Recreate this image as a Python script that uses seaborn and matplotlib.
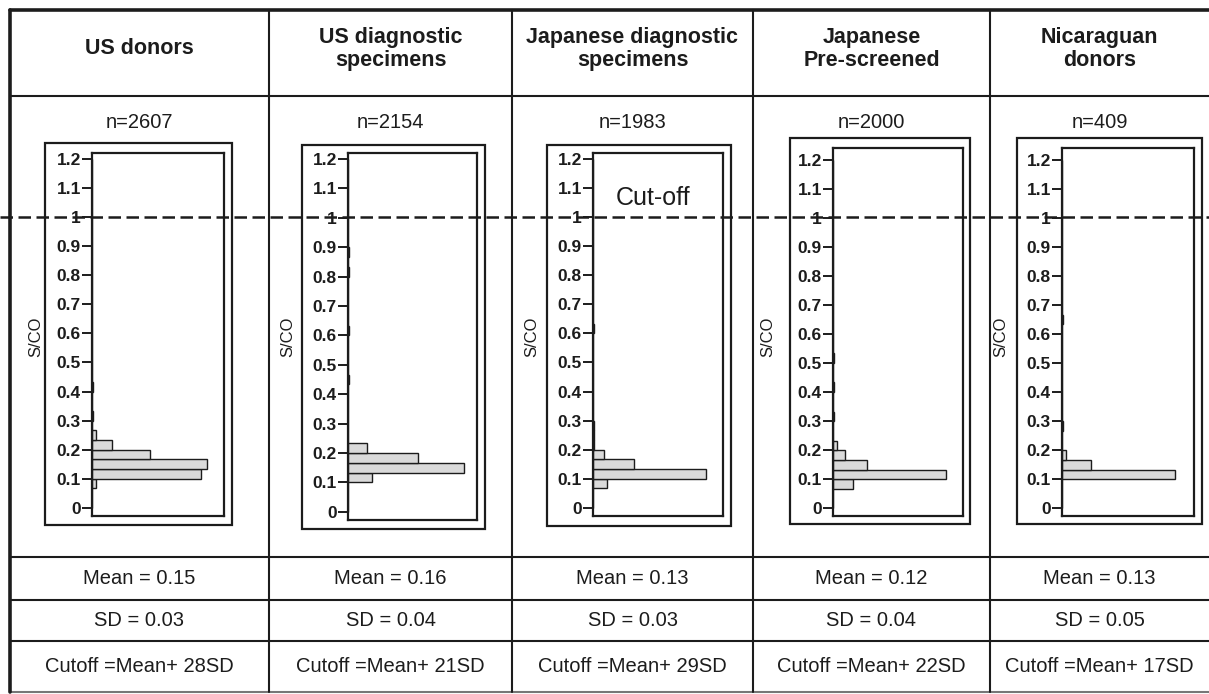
import numpy as np
import pandas as pd
import matplotlib
matplotlib.use("Agg")
import matplotlib.pyplot as plt
import matplotlib.transforms as mtransforms
from matplotlib.lines import Line2D
from matplotlib.patches import Rectangle
import seaborn as sns

sns.set_theme(style="white")
plt.rcParams["font.family"] = ["Liberation Sans", "DejaVu Sans"]

# ---------------------------------------------------------------- data
groups = ["US donors", "US diagnostic\nspecimens", "Japanese diagnostic\nspecimens",
          "Japanese\nPre-screened", "Nicaraguan\ndonors"]
n_values = [2607, 2154, 1983, 2000, 409]
means = [0.15, 0.16, 0.13, 0.12, 0.13]
sds = [0.03, 0.04, 0.03, 0.04, 0.05]
cutoff_multiples = [28, 21, 29, 22, 17]
cutoff = 1.0

bin_width = 1 / 30
# lower edge of each occupied S/CO bin and the number of specimens in it
us_donor_bins = [0.067, 0.100, 0.133, 0.167, 0.200, 0.233, 0.300, 0.400]
us_donor_counts = [35, 911, 961, 485, 167, 33, 8, 7]
us_diag_bins = [0.100, 0.133, 0.167, 0.200, 0.433, 0.600, 0.800, 0.867]
us_diag_counts = [223, 1079, 651, 177, 8, 6, 5, 5]
jp_diag_bins = [0.067, 0.100, 0.133, 0.167, 0.200, 0.233, 0.267, 0.600]
jp_diag_counts = [153, 1232, 447, 120, 7, 7, 6, 11]
jp_pre_bins = [0.067, 0.100, 0.133, 0.167, 0.200, 0.300, 0.400, 0.500, 0.567, 0.700, 1.000]
jp_pre_counts = [215, 1215, 366, 129, 43, 6, 6, 6, 5, 5, 4]
nic_bins = [0.100, 0.133, 0.167, 0.267, 0.633]
nic_counts = [311, 80, 11, 4, 3]

y_ticks = [0, 0.1, 0.2, 0.3, 0.4, 0.5, 0.6, 0.7, 0.8, 0.9, 1.0, 1.1, 1.2]
y_tick_labels = ["0", "0.1", "0.2", "0.3", "0.4", "0.5", "0.6", "0.7", "0.8",
                 "0.9", "1", "1.1", "1.2"]

panels = [
    (us_donor_bins, us_donor_counts),
    (us_diag_bins, us_diag_counts),
    (jp_diag_bins, jp_diag_counts),
    (jp_pre_bins, jp_pre_counts),
    (nic_bins, nic_counts),
]

# ---------------------------------------------------------------- layout (pixels)
W, H = 1209, 694
col_edges = [10, 269, 512, 753, 990, 1209]
row_lines = [96, 557, 600, 641]
# plot area: left, top, right, bottom ; surrounding frame ; ylim ; count range
axes_px = [(92, 153, 224, 516), (348, 153, 477, 520), (593, 153, 723, 516),
           (833, 148, 963, 516), (1062, 148, 1194, 516)]
frame_px = [(45, 143, 232, 525), (302, 145, 485, 529), (547, 145, 731, 526),
            (790, 138, 970, 524), (1017, 138, 1202, 524)]
ylims = [(-0.028, 1.22), (-0.028, 1.22), (-0.028, 1.22), (-0.026, 1.24), (-0.026, 1.24)]
xmax = [1103, 1200, 1417, 1398, 363]
ylabel_x = [36, 288, 532, 768, 1001]


def fx(x):
    return x / W


def fy(y):
    return 1 - y / H


fig = plt.figure(figsize=(W / 100, H / 100), dpi=100)
fig.patch.set_facecolor("white")

line_col = "#1c1c1c"

axes = []
for i, (bins_lo, counts) in enumerate(panels):
    l, t, r, b = axes_px[i]
    ax = fig.add_axes([fx(l), fy(b), (r - l) / W, (b - t) / H])
    df = pd.DataFrame({"sco": np.array(bins_lo) + bin_width / 2, "count": counts})
    sns.histplot(data=df, y="sco", weights="count", binwidth=bin_width,
                 binrange=(0, 1.2), ax=ax, color="#dadada", edgecolor=line_col,
                 linewidth=1.0, alpha=1.0)
    ax.set_xlim(0, xmax[i])
    ax.set_ylim(*ylims[i])
    ax.set_xticks([])
    ax.set_yticks(y_ticks)
    ax.set_yticklabels(y_tick_labels)
    ax.tick_params(axis="y", left=True, direction="out", length=7, width=1.4,
                   pad=1, labelsize=12.5, colors=line_col)
    for lab in ax.get_yticklabels():
        lab.set_fontweight("bold")
    for sp in ax.spines.values():
        sp.set_visible(True)
        sp.set_color(line_col)
        sp.set_linewidth(1.6)
    ax.set_xlabel("")
    ax.set_ylabel("")
    axes.append(ax)

    fl, ft, fr, fb = frame_px[i]
    fig.add_artist(Rectangle((fx(fl), fy(fb)), (fr - fl) / W, (fb - ft) / H,
                             transform=fig.transFigure, fill=False,
                             edgecolor=line_col, linewidth=1.6))
    fig.text(fx(ylabel_x[i]), fy(337), "S/CO", rotation=90, ha="center",
             va="center", fontsize=12, color=line_col)

# table grid
for y in row_lines:
    fig.add_artist(Line2D([fx(col_edges[0]), 1], [fy(y), fy(y)],
                          transform=fig.transFigure, color=line_col, linewidth=1.5))
fig.add_artist(Line2D([fx(col_edges[0]), 1], [fy(10), fy(10)],
                      transform=fig.transFigure, color=line_col, linewidth=2.6))
fig.add_artist(Line2D([fx(col_edges[0]), 1], [fy(692), fy(692)],
                      transform=fig.transFigure, color="#777777", linewidth=1.5))
for j, x in enumerate(col_edges[:-1]):
    fig.add_artist(Line2D([fx(x), fx(x)], [fy(10), fy(692)],
                          transform=fig.transFigure, color=line_col,
                          linewidth=2.6 if j == 0 else 1.5))

# cut-off line across every panel
blend = mtransforms.blended_transform_factory(fig.transFigure, axes[0].transData)
fig.add_artist(Line2D([0, 1], [cutoff, cutoff], transform=blend, color=line_col,
                      linewidth=1.8, linestyle=(0, (5, 2.2)), zorder=5))
axes[2].text(0.46, 1.064, "Cut-off", transform=axes[2].get_yaxis_transform(),
             ha="center", va="center", fontsize=18, color=line_col)

# column texts
for i in range(5):
    cx = fx((col_edges[i] + col_edges[i + 1]) / 2)
    fig.text(cx, fy(49), groups[i], ha="center", va="center", fontsize=15.5,
             fontweight="bold", linespacing=1.15, color=line_col)
    fig.text(cx, fy(122), f"n={n_values[i]}", ha="center", va="center",
             fontsize=14.5, color=line_col)
    fig.text(cx, fy(579), f"Mean = {means[i]:.2f}", ha="center", va="center",
             fontsize=14.5, color=line_col)
    fig.text(cx, fy(621), f"SD = {sds[i]:.2f}", ha="center", va="center",
             fontsize=14.5, color=line_col)
    fig.text(cx, fy(667), f"Cutoff =Mean+ {cutoff_multiples[i]}SD", ha="center",
             va="center", fontsize=14.5, color=line_col)

fig.savefig("out.png", dpi=100)
